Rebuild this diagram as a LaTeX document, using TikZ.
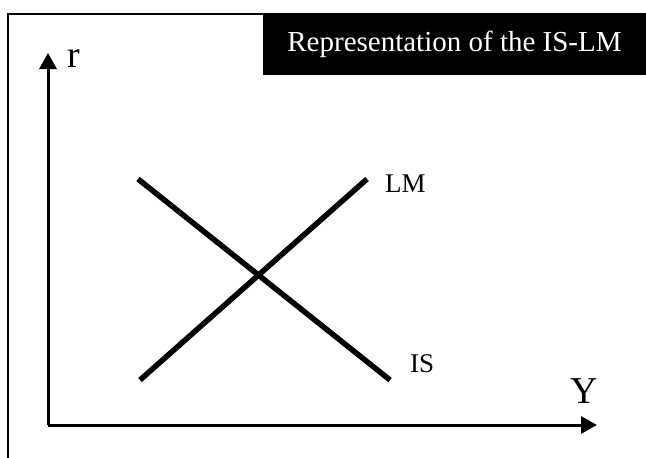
\documentclass[tikz,border=0pt]{standalone}
\usepackage{fontspec}
\setmainfont{Liberation Serif}
\usetikzlibrary{arrows.meta}
\begin{document}
\begin{tikzpicture}[x=1pt,y=-1pt,
  frameline/.style={line width=1.5pt},
  axisline/.style={line width=3pt,-{Triangle[length=16pt,width=17pt]}},
  curveline/.style={line width=5.5pt},
  lbl/.style={inner sep=0pt,anchor=base west,font=\fontsize{27}{30}\selectfont},
  axlbl/.style={inner sep=0pt,anchor=base west,font=\fontsize{38}{42}\selectfont}]
\useasboundingbox (0,0) rectangle (646,458);
% frame
\coordinate (fb) at (8,458);
\coordinate (ftl) at (8,14);
\node[fill=black,text=white,inner sep=0pt,minimum width=383pt,minimum height=62pt,
  font=\fontsize{29}{32}\selectfont] (title) at (454.5,44) {Representation of the IS-LM};
\draw[frameline] (fb) -- (ftl) -- (title.west |- ftl);
% axes
\coordinate (o) at (48,425);
\coordinate (ytip) at (48,53);
\coordinate (xtip) at (597,425);
\draw[axisline] (o) -- (ytip);
\draw[axisline] (o) -- (xtip);
\node[axlbl] (r) at (67,67) {r};
\node[axlbl] (Y) at (570,403) {Y};
% curves
\coordinate (lm1) at (140,380);
\coordinate (lm2) at (367,179);
\coordinate (is1) at (138,179);
\coordinate (is2) at (390,380);
\draw[curveline] (lm1) -- (lm2);
\draw[curveline] (is1) -- (is2);
\node[lbl] (LM) at (385,192) {LM};
\node[lbl] (IS) at (410,372) {IS};
\end{tikzpicture}
\end{document}
